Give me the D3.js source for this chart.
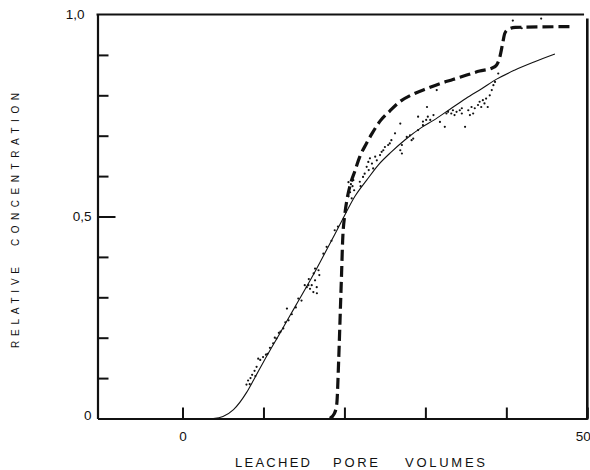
<!DOCTYPE html>
<html>
<head>
<meta charset="utf-8">
<script src="https://cdn.jsdelivr.net/npm/d3@7/dist/d3.min.js"></script>
<style>
  html, body { margin: 0; padding: 0; background: #fff; }
  svg { display: block; }
  text { font-family: "Liberation Sans", Arial, Helvetica, sans-serif; fill: #111; }
</style>
</head>
<body>
<svg id="chart" width="590" height="470"></svg>
<script>
// ---- data ----
const xTickValues = [0, 10, 20, 30, 40, 50];
const xTickLabels = {0: "0", 50: "50"};
const yTickValues = [0, 0.1, 0.2, 0.3, 0.4, 0.5, 0.6, 0.7, 0.8, 0.9, 1.0];
const yTickLabels = {0: "0", 0.5: "0,5", 1: "1,0"};

// model curve (thin solid)
const solidX = [3.8, 5.0, 6.3, 7.9, 8.8, 10.0, 12.0, 14.0, 16.0, 18.0, 19.7, 21.3, 22.75, 24.2, 25.8, 27.5, 29.5, 31.0, 33.0, 35.0, 37.0, 38.8, 41.0, 43.5, 46.0];
const solidY = [0.0, 0.005, 0.022, 0.064, 0.096, 0.14, 0.21, 0.28, 0.35, 0.425, 0.49, 0.55, 0.59, 0.628, 0.66, 0.69, 0.72, 0.738, 0.765, 0.792, 0.817, 0.84, 0.862, 0.883, 0.902];

// second model (thick dashed)
const dashX = [18.2, 18.75, 19.05, 19.3, 19.5, 19.65, 19.78, 20.05, 20.3, 20.7, 21.3, 21.9, 22.7, 23.4, 24.4, 25.6, 26.9, 28.5, 30.2, 31.8, 33.4, 35.1, 36.7, 38.2, 38.8, 39.2, 39.55, 39.8, 40.2, 41.1, 48.1];
const dashY = [0.0, 0.012, 0.035, 0.15, 0.27, 0.36, 0.44, 0.505, 0.54, 0.577, 0.613, 0.648, 0.68, 0.705, 0.736, 0.761, 0.785, 0.803, 0.817, 0.829, 0.839, 0.85, 0.86, 0.867, 0.875, 0.895, 0.929, 0.953, 0.963, 0.968, 0.97];

// measured points (dots)
const dotX = [7.9, 8.1, 8.3, 8.4, 8.6, 8.9, 9.0, 9.15, 9.35, 9.6, 9.95, 10.3, 10.5, 10.8, 11.2, 11.4, 11.6, 11.9, 12.1, 12.45, 12.7, 12.9, 13.1, 13.5, 14.0, 14.3, 14.7,
  15.1, 15.35, 15.55, 15.6, 15.75, 15.96, 16.16, 16.2, 16.37, 16.37, 16.58, 16.6, 16.8, 16.9,
  17.4, 17.8, 18.4, 18.8, 19.2,
  20.5, 20.6, 20.8, 21.0, 20.7, 21.2, 20.9, 20.5, 21.1,
  21.9, 22.0, 22.3, 22.5, 22.75, 22.95, 23.0, 23.15, 23.4, 23.55, 23.8, 24.0, 24.4, 24.6, 24.8, 25.0, 25.4, 25.6, 25.8, 26.25, 26.9, 26.9, 27.1, 27.1, 27.7, 28.1, 28.3, 28.5, 29.1, 29.1, 29.7, 30.1, 30.3,
  29.7, 30.6, 30.2, 31.4, 31.0, 31.8, 32.4, 32.6, 32.8, 33.2, 33.4, 33.6, 33.85, 34.25, 34.5, 34.5, 34.9, 35.3, 35.5, 35.7, 35.9, 36.1, 36.5, 36.7, 36.9, 37.1, 37.3, 37.5, 37.7, 37.95, 38.2, 38.4, 38.6, 39.0,
  40.8, 41.9, 44.3];
const dotY = [0.084, 0.094, 0.085, 0.1, 0.108, 0.118, 0.105, 0.128, 0.148, 0.145, 0.152, 0.158, 0.16, 0.175, 0.186, 0.2, 0.198, 0.212, 0.215, 0.223, 0.238, 0.272, 0.243, 0.258, 0.275, 0.297, 0.292,
  0.33, 0.325, 0.33, 0.345, 0.321, 0.33, 0.313, 0.359, 0.342, 0.371, 0.325, 0.31, 0.367, 0.355,
  0.408, 0.425, 0.44, 0.466, 0.475,
  0.55, 0.57, 0.58, 0.575, 0.56, 0.565, 0.545, 0.585, 0.59,
  0.586, 0.575, 0.598, 0.606, 0.623, 0.635, 0.615, 0.644, 0.631, 0.619, 0.648, 0.639, 0.652, 0.66, 0.664, 0.672, 0.677, 0.681, 0.689, 0.706, 0.73, 0.664, 0.656, 0.677, 0.697, 0.701, 0.689, 0.693, 0.714, 0.747, 0.726, 0.739, 0.747,
  0.735, 0.739, 0.771, 0.813, 0.751, 0.734, 0.722, 0.755, 0.759, 0.755, 0.763, 0.751, 0.759, 0.763, 0.755, 0.768, 0.722, 0.763, 0.751, 0.771, 0.755, 0.768, 0.776, 0.784, 0.771, 0.788, 0.780, 0.792, 0.771, 0.80, 0.813, 0.825, 0.833, 0.854,
  0.985, 0.966, 0.99];

// ---- drawing ----
const svg = d3.select("#chart");
const x = d3.scaleLinear().domain([-10.5, 50]).range([97.5, 587.3]);
const y = d3.scaleLinear().domain([0, 1]).range([418.5, 14.5]);

const axisW = 2.2;

// bottom axis (ticks point inward / up)
const gx = svg.append("g").attr("transform", `translate(0,${y(0)})`)
  .call(d3.axisBottom(x).tickValues(xTickValues).tickSizeInner(-11).tickSizeOuter(0).tickPadding(13)
    .tickFormat(d => xTickLabels[d] || ""));
gx.select(".domain").attr("stroke", "#111").attr("stroke-width", axisW);
gx.selectAll(".tick line").attr("stroke", "#111").attr("stroke-width", 2);
gx.selectAll(".tick text").attr("font-size", 13.5).attr("fill", "#111")
  .attr("font-family", '"Liberation Sans", Arial, sans-serif');
gx.selectAll(".tick").filter(d => d === 50).select("text").attr("text-anchor", "end").attr("dx", 3);

// left axis (ticks point inward / right)
const gy = svg.append("g").attr("transform", `translate(${x(-10.5)},0)`)
  .call(d3.axisLeft(y).tickValues(yTickValues).tickSizeInner(-11).tickSizeOuter(0).tickPadding(6)
    .tickFormat(d => yTickLabels[Math.round(d * 10) / 10] || ""));
gy.select(".domain").attr("stroke", "#111").attr("stroke-width", axisW);
gy.selectAll(".tick line").attr("stroke", "#111").attr("stroke-width", 2);
gy.selectAll(".tick").filter(d => d === 0 || d === 1).select("line").remove();
gy.selectAll(".tick").filter(d => d === 0.5).select("line").attr("x2", 18);
gy.selectAll(".tick text").attr("font-size", 13.5).attr("fill", "#111")
  .attr("font-family", '"Liberation Sans", Arial, sans-serif');
gy.selectAll(".tick").filter(d => d === 1).select("text").attr("dx", -7);
gy.selectAll(".tick").filter(d => d === 0).select("text").attr("dy", "0.1em");

// top and right frame lines
svg.append("line").attr("x1", x(-10.5) - 1).attr("x2", x(49.6)).attr("y1", y(1)).attr("y2", y(1))
  .attr("stroke", "#111").attr("stroke-width", axisW);
svg.append("line").attr("x1", x(50)).attr("x2", x(50)).attr("y1", y(0.99)).attr("y2", y(0) + 1)
  .attr("stroke", "#111").attr("stroke-width", 2.6);

// curves
const solidData = solidX.map((d, i) => [d, solidY[i]]);
const dashData = dashX.map((d, i) => [d, dashY[i]]);
const line = d3.line().x(d => x(d[0])).y(d => y(d[1])).curve(d3.curveMonotoneX);

svg.append("path").datum(solidData).attr("d", line)
  .attr("fill", "none").attr("stroke", "#111").attr("stroke-width", 1.1);

svg.append("path").datum(dashData).attr("d", line)
  .attr("fill", "none").attr("stroke", "#111").attr("stroke-width", 3.2)
  .attr("stroke-dasharray", "11,5");

// dots
svg.append("g").selectAll("circle").data(dotX.map((d, i) => [d, dotY[i]])).join("circle")
  .attr("cx", d => x(d[0])).attr("cy", d => y(d[1])).attr("r", 1.1).attr("fill", "#111");

// axis titles
const xt = svg.append("g");
[["LEACHED", 235, 75], ["PORE", 333, 45], ["VOLUMES", 405, 80]].forEach(([t, x0, len]) => {
  xt.append("text").attr("x", x0).attr("y", 467).attr("font-size", 13)
    .attr("textLength", len).attr("lengthAdjust", "spacing").text(t);
});
const yt = svg.append("g");
[["RELATIVE", 348, 81], ["CONCENTRATION", 246, 153]].forEach(([t, y0, len]) => {
  yt.append("text").attr("transform", `translate(18.5,${y0}) rotate(-90)`).attr("font-size", 10)
    .attr("textLength", len).attr("lengthAdjust", "spacing").text(t);
});
</script>
</body>
</html>
